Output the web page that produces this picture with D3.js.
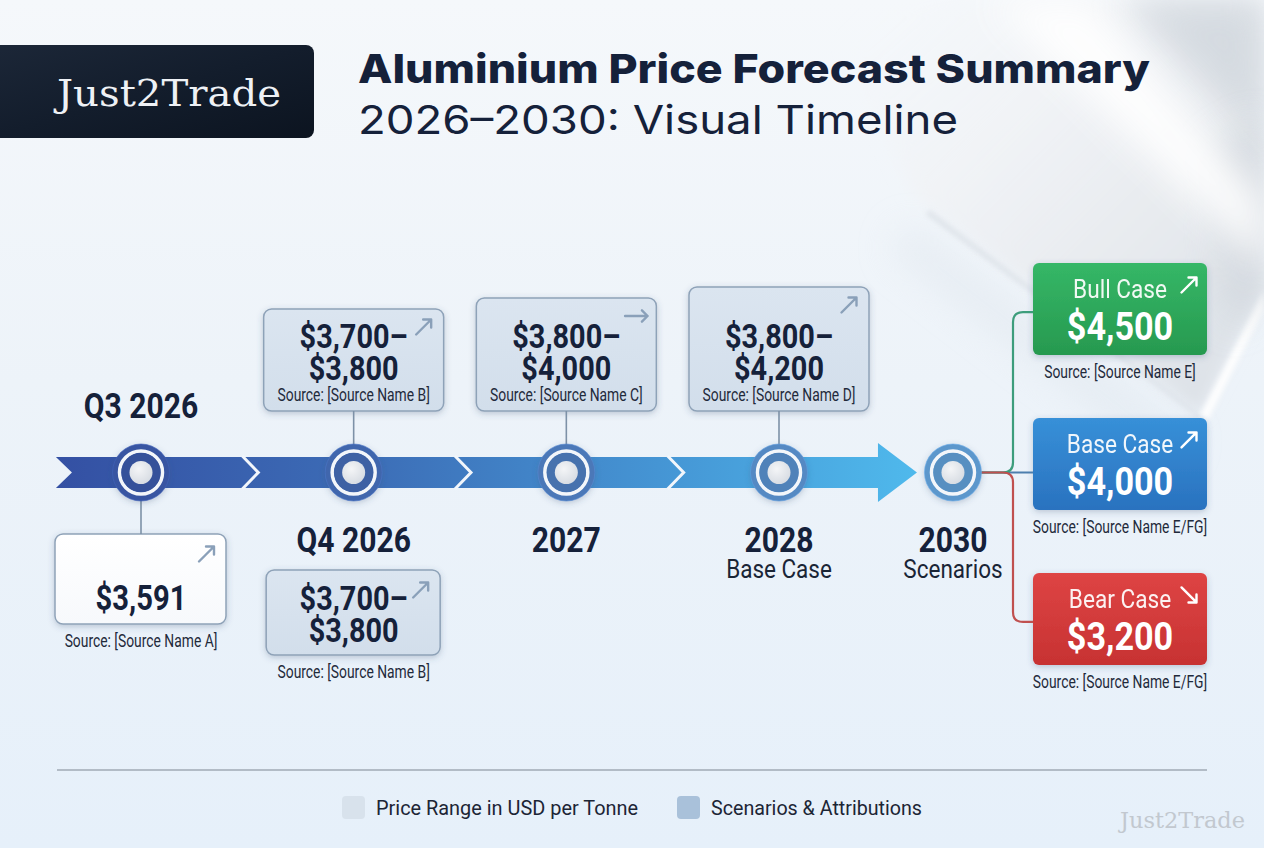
<!DOCTYPE html>
<html><head><meta charset="utf-8">
<script src="https://cdn.jsdelivr.net/npm/d3@7"></script>
<style>html,body{margin:0;padding:0;background:#eef4fa;overflow:hidden}</style>
</head><body><svg id="chart" width="1264" height="848"></svg>
<script>
// ---------- DATA ----------
const brand = "Just2Trade";
const titleText = "Aluminium Price Forecast Summary";
const subtitleText = "2026–2030: Visual Timeline";
const periods = ["Q3 2026", "Q4 2026", "2027", "2028"];
const periodSubLabels = ["", "", "", "Base Case"];
const priceLow = [3591, 3700, 3800, 3800];
const priceHigh = [3591, 3800, 4000, 4200];
const priceSources = ["Source Name A", "Source Name B", "Source Name C", "Source Name D"];
const priceTrends = ["up", "up", "flat", "up"];
const boxPlacement = ["below", "both", "above", "above"];
const scenarioYear = "2030";
const scenarioSubLabel = "Scenarios";
const scenarioNames = ["Bull Case", "Base Case", "Bear Case"];
const scenarioValues = [4500, 4000, 3200];
const scenarioSources = ["Source Name E", "Source Name E/FG", "Source Name E/FG"];
const scenarioTrends = ["up", "up", "down"];
const legendLabels = ["Price Range in USD per Tonne", "Scenarios & Attributions"];

// ---------- SETUP ----------
const W = 1264, H = 848;
const svg = d3.select("#chart");
const defs = svg.append("defs");
const fmt = d3.format("$,");
const DARK = "#15213a";

function lin(id, x1, y1, x2, y2, stops, units) {
  const lg = defs.append("linearGradient").attr("id", id)
    .attr("x1", x1).attr("y1", y1).attr("x2", x2).attr("y2", y2);
  if (units) lg.attr("gradientUnits", units);
  stops.forEach(s => lg.append("stop").attr("offset", s[0]).attr("stop-color", s[1]).attr("stop-opacity", s[2] == null ? 1 : s[2]));
}
lin("bg", 0, 0, 0, 1, [[0, "#f5f8fb"], [0.45, "#edf3f9"], [1, "#e6f0fa"]]);
lin("logoG", 0, 0, 1, 1, [[0, "#1c2738"], [0.5, "#131d2c"], [1, "#0c1420"]]);
lin("ribbon", 56, 0, 917, 0, [[0, "#3450a3"], [0.35, "#3c6cb6"], [0.7, "#4595d4"], [1, "#4fb9ec"]], "userSpaceOnUse");
lin("rangeBox", 0, 0, 0, 1, [[0, "#dbe5f0"], [1, "#d2deeb"]]);
lin("whiteBox", 0, 0, 0, 1, [[0, "#ffffff"], [1, "#f7f9fc"]]);
lin("scen0", 0, 0, 0, 1, [[0, "#35b767"], [1, "#27994f"]]);
lin("scen1", 0, 0, 0, 1, [[0, "#3790d8"], [1, "#2a72bf"]]);
lin("scen2", 0, 0, 0, 1, [[0, "#de4444"], [1, "#c73232"]]);
lin("metalSurf", 880, 0, 1264, 380, [[0, "#f3f5f8", 0], [0.3, "#f1f3f6", 0.85], [0.6, "#e9ecf0", 1], [1, "#dbe0e6", 1]], "userSpaceOnUse");
const rg = defs.append("radialGradient").attr("id", "core").attr("cx", 0.4).attr("cy", 0.35).attr("r", 0.7);
rg.append("stop").attr("offset", 0).attr("stop-color", "#f4f5f7");
rg.append("stop").attr("offset", 1).attr("stop-color", "#d6dbe2");

const sh = defs.append("filter").attr("id", "shadow").attr("x", "-30%").attr("y", "-30%").attr("width", "160%").attr("height", "160%");
sh.append("feDropShadow").attr("dx", 0).attr("dy", 2).attr("stdDeviation", 3).attr("flood-color", "#3b5575").attr("flood-opacity", 0.28);
function blurF(id, s) {
  defs.append("filter").attr("id", id).attr("x", "-50%").attr("y", "-50%").attr("width", "200%").attr("height", "200%")
    .append("feGaussianBlur").attr("stdDeviation", s);
}
blurF("blur", 18); blurF("blurS", 8); blurF("blurXS", 2.5);

// ---------- BACKGROUND ----------
svg.append("rect").attr("width", W).attr("height", H).attr("fill", "url(#bg)");
const metal = svg.append("g");
metal.append("path").attr("d", "M1190,440 L910,225 L890,250 L1170,465 Z").attr("fill", "#dce3ea").attr("opacity", 0.5).attr("filter", "url(#blur)");
metal.append("path").attr("d", "M820,0 L1264,0 L1264,290 L1200,415 L915,197 Z").attr("fill", "url(#metalSurf)").attr("filter", "url(#blurS)");
metal.append("path").attr("d", "M930,210 L1200,415 L1204,421 L925,214 Z").attr("fill", "#d3d9e0").attr("opacity", 0.55).attr("filter", "url(#blurXS)");
metal.append("path").attr("d", "M1264,290 L1200,415 L1208,420 L1264,310 Z").attr("fill", "#ffffff").attr("opacity", 0.9).attr("filter", "url(#blurXS)");
metal.append("path").attr("d", "M1120,0 L1264,0 L1264,140 Z").attr("fill", "#cfd5dc").attr("opacity", 0.8).attr("filter", "url(#blur)");
metal.append("path").attr("d", "M1210,150 L1264,120 L1264,290 L1230,330 Z").attr("fill", "#cdd3da").attr("opacity", 0.8).attr("filter", "url(#blur)");
metal.append("path").attr("d", "M990,0 L1090,0 L1264,200 L1264,270 Z").attr("fill", "#ffffff").attr("opacity", 0.9).attr("filter", "url(#blur)");

// ---------- TEXT HELPER ----------
function ctext(g, x, y, str, o) {
  return g.append("text")
    .attr("transform", `translate(${x},${y}) scale(${o.sx || 1},1)`)
    .attr("text-anchor", o.anchor || "middle")
    .attr("font-family", o.family || "Roboto, 'Liberation Sans', sans-serif")
    .attr("font-size", o.size).attr("font-weight", o.weight || 400)
    .attr("fill", o.fill || DARK)
    .attr("opacity", o.opacity == null ? 1 : o.opacity)
    .text(str);
}

// ---------- HEADER ----------
svg.append("rect").attr("x", -12).attr("y", 45).attr("width", 326).attr("height", 93).attr("rx", 8).attr("fill", "url(#logoG)");
svg.append("text").attr("x", 57).attr("y", 106).attr("font-family", "'DejaVu Serif', serif").attr("font-size", 38)
  .attr("fill", "#eef1f5").attr("textLength", 224).attr("lengthAdjust", "spacingAndGlyphs").text(brand);
svg.append("text").attr("x", 358).attr("y", 83).attr("font-family", "Inter, Roboto, sans-serif").attr("font-size", 40)
  .attr("font-weight", 800).attr("fill", DARK).attr("textLength", 792).attr("lengthAdjust", "spacingAndGlyphs").text(titleText);
svg.append("text").attr("x", 358).attr("y", 134).attr("font-family", "Inter, Roboto, sans-serif").attr("font-size", 40)
  .attr("font-weight", 400).attr("fill", DARK).attr("textLength", 600).attr("lengthAdjust", "spacingAndGlyphs").text(subtitleText);

// ---------- SCALES ----------
const TL_Y = 472.5;
const x = d3.scalePoint().domain(periods).range([141, 779]);
const step = x.step();
const hubX = x(periods[periods.length - 1]) + step * 0.818;
const nodeColor = d3.scaleLinear().domain([x(periods[0]), hubX]).range(["#3855a2", "#5c97cc"]);

// ---------- RIBBON ----------
const rh = 15.5, notch = 16;
const rStart = x(periods[0]) - step * 0.4;
const headBase = hubX - 75, headTip = hubX - 36, headH = 29.5;
const tl = svg.append("g");
tl.append("path").attr("d",
  `M${rStart},${TL_Y - rh} L${headBase},${TL_Y - rh} L${headBase},${TL_Y - headH} L${headTip},${TL_Y} ` +
  `L${headBase},${TL_Y + headH} L${headBase},${TL_Y + rh} L${rStart},${TL_Y + rh} L${rStart + notch},${TL_Y} Z`)
  .attr("fill", "url(#ribbon)");
periods.slice(0, -1).forEach((p, i) => {
  const tip = (x(p) + x(periods[i + 1])) / 2 + 11;
  tl.append("path").attr("d", `M${tip - notch},${TL_Y - rh - 1} L${tip},${TL_Y} L${tip - notch},${TL_Y + rh + 1}`)
    .attr("fill", "none").attr("stroke", "#f2f6fb").attr("stroke-width", 3);
});

// ---------- TREND ICON ----------
function trendIcon(g, cx, cy, dir, color) {
  const s = 7.5;
  let x1, y1, x2, y2;
  if (dir === "up") { x1 = cx - s; y1 = cy + s; x2 = cx + s; y2 = cy - s; }
  else if (dir === "down") { x1 = cx - s; y1 = cy - s; x2 = cx + s; y2 = cy + s; }
  else { x1 = cx - s * 1.5; y1 = cy; x2 = cx + s * 1.5; y2 = cy; }
  const a = Math.atan2(y2 - y1, x2 - x1), L = 8;
  const h1 = [x2 - L * Math.cos(a - Math.PI / 4), y2 - L * Math.sin(a - Math.PI / 4)];
  const h2 = [x2 - L * Math.cos(a + Math.PI / 4), y2 - L * Math.sin(a + Math.PI / 4)];
  g.append("path").attr("d", `M${x1},${y1} L${x2},${y2} M${h1[0]},${h1[1]} L${x2},${y2} L${h2[0]},${h2[1]}`)
    .attr("fill", "none").attr("stroke", color).attr("stroke-width", 2.4).attr("stroke-linecap", "round").attr("stroke-linejoin", "round");
}

// ---------- PRICE BOXES ----------
const boxes = svg.append("g");
const CONN = "#7d91a7";
const VAL = { size: 34, weight: 700, sx: 0.85 };
const SRC = { size: 18, sx: 0.77, fill: "#1f2a3b" };
let aboveIdx = 0;
periods.forEach((p, i) => {
  const cx = x(p);
  const single = priceLow[i] === priceHigh[i];
  const src = `Source: [${priceSources[i]}]`;
  const place = boxPlacement[i];
  if (place === "above" || place === "both") {
    const bw = 180, bottom = 411, top = 309 - 11 * aboveIdx;
    aboveIdx++;
    svg.append("line").attr("x1", cx).attr("x2", cx).attr("y1", bottom).attr("y2", TL_Y - 28)
      .attr("stroke", CONN).attr("stroke-width", 1.6);
    boxes.append("rect").attr("x", cx - bw / 2).attr("y", top).attr("width", bw).attr("height", bottom - top).attr("rx", 8)
      .attr("fill", "url(#rangeBox)").attr("stroke", "#8ea2b8").attr("stroke-width", 1.5).attr("filter", "url(#shadow)");
    ctext(boxes, cx, bottom - 63, fmt(priceLow[i]) + "–", VAL);
    ctext(boxes, cx, bottom - 31, fmt(priceHigh[i]), VAL);
    ctext(boxes, cx, bottom - 10, src, SRC);
    trendIcon(boxes, cx + bw / 2 - 20, top + 18, priceTrends[i], "#8aa0b9");
  }
  if (place === "below" || place === "both") {
    const labelAbove = place === "below";
    const bw = single ? 171 : 174, top = labelAbove ? TL_Y + 61.5 : TL_Y + 97.5, bh = single ? 90 : 85;
    if (labelAbove) svg.append("line").attr("x1", cx).attr("x2", cx).attr("y1", TL_Y + 28).attr("y2", top)
      .attr("stroke", CONN).attr("stroke-width", 1.6);
    boxes.append("rect").attr("x", cx - bw / 2 - 0.5).attr("y", top).attr("width", bw).attr("height", bh).attr("rx", 8)
      .attr("fill", single ? "url(#whiteBox)" : "url(#rangeBox)").attr("stroke", "#8ea2b8").attr("stroke-width", 1.5).attr("filter", "url(#shadow)");
    if (single) {
      ctext(boxes, cx, top + bh - 14, fmt(priceLow[i]), { size: 36, weight: 700, sx: 0.81 });
    } else {
      ctext(boxes, cx, top + bh - 45, fmt(priceLow[i]) + "–", VAL);
      ctext(boxes, cx, top + bh - 13, fmt(priceHigh[i]), VAL);
    }
    ctext(boxes, cx, top + bh + 23, src, SRC);
    trendIcon(boxes, cx + bw / 2 - 20, top + 20, priceTrends[i], "#8aa0b9");
  }
  const ly = place === "below" ? TL_Y - 54.5 : TL_Y + 79.5;
  ctext(svg, cx, ly, p, { size: 35, weight: 700, sx: 0.86 });
  if (periodSubLabels[i]) ctext(svg, cx, TL_Y + 105.5, periodSubLabels[i], { size: 25, sx: 0.9, fill: "#1a2536" });
});

// ---------- SCENARIOS ----------
const yS = d3.scaleBand().domain(scenarioNames).range([263, 665]).paddingInner(0.406).paddingOuter(0);
const sx0 = 1033, sw = 174, trunkX = 1013, rr = 10;
const branchColors = ["#3d9d7c", "#4d7fae", "#c0504f"];
const tree = svg.append("g");
[1, 0, 2].forEach(i => {
  const name = scenarioNames[i];
  const top = yS(name), cy = i === 1 ? TL_Y : top + yS.bandwidth() / 2 + 3;
  let d;
  if (Math.abs(cy - TL_Y) < 1) d = `M${hubX + 27},${TL_Y} H${sx0}`;
  else {
    const sg = cy < TL_Y ? -1 : 1;
    d = `M${hubX + 27},${TL_Y} H${trunkX - rr} Q${trunkX},${TL_Y} ${trunkX},${TL_Y + sg * rr} V${cy - sg * rr} Q${trunkX},${cy} ${trunkX + rr},${cy} H${sx0}`;
  }
  tree.append("path").attr("d", d).attr("fill", "none").attr("stroke", branchColors[i]).attr("stroke-width", 2.2);
});
scenarioNames.forEach((name, i) => {
  const top = yS(name), cx = sx0 + sw / 2;
  boxes.append("rect").attr("x", sx0).attr("y", top).attr("width", sw).attr("height", yS.bandwidth()).attr("rx", 6)
    .attr("fill", `url(#scen${i})`).attr("filter", "url(#shadow)");
  ctext(boxes, cx, top + 35, name, { size: 26, sx: 0.87, fill: "#ffffff", opacity: 0.93 });
  ctext(boxes, cx, top + 77, fmt(scenarioValues[i]), { size: 38, weight: 700, sx: 0.9, fill: "#ffffff" });
  trendIcon(boxes, sx0 + sw - 18, top + 22, scenarioTrends[i], "#ffffff");
  ctext(boxes, cx, top + yS.bandwidth() + 23, `Source: [${scenarioSources[i]}]`, SRC);
});
ctext(svg, hubX, TL_Y + 79.5, scenarioYear, { size: 35, weight: 700, sx: 0.86 });
ctext(svg, hubX, TL_Y + 105.5, scenarioSubLabel, { size: 25, sx: 0.9, fill: "#1a2536" });

// ---------- NODES ----------
const nodeX = periods.map(p => x(p)).concat([hubX]);
const nodes = svg.append("g");
nodeX.forEach(nx => {
  const c = nodeColor(nx);
  const ng = nodes.append("g").attr("transform", `translate(${nx},${TL_Y})`);
  ng.append("circle").attr("r", 28.5).attr("fill", c).attr("filter", "url(#shadow)");
  ng.append("circle").attr("r", 28.5).attr("fill", "none").attr("stroke", d3.color(c).brighter(0.4)).attr("stroke-width", 1).attr("opacity", 0.6);
  ng.append("circle").attr("r", 21.5).attr("fill", "none").attr("stroke", "#f3f6fa").attr("stroke-width", 3.5);
  ng.append("circle").attr("r", 19.5).attr("fill", d3.color(c).darker(0.15));
  ng.append("circle").attr("r", 11.5).attr("fill", "url(#core)");
});

// ---------- FOOTER ----------
svg.append("line").attr("x1", 57).attr("x2", 1207).attr("y1", 770).attr("y2", 770).attr("stroke", "#a0aab5").attr("stroke-width", 1.5);
const legendColors = ["#d8e2ec", "#a9c1da"];
const legendX = [342, 677], legendW = [262, 211];
legendLabels.forEach((l, i) => {
  svg.append("rect").attr("x", legendX[i]).attr("y", 796).attr("width", 23).attr("height", 23).attr("rx", 4).attr("fill", legendColors[i]);
  svg.append("text").attr("x", legendX[i] + 34).attr("y", 815).attr("font-family", "Roboto, sans-serif").attr("font-size", 21)
    .attr("fill", "#1c2535").attr("textLength", legendW[i]).attr("lengthAdjust", "spacingAndGlyphs").text(l);
});
svg.append("text").attr("x", 1120).attr("y", 828).attr("font-family", "'DejaVu Serif', serif").attr("font-size", 22)
  .attr("fill", "#c2c8cf").attr("textLength", 125).attr("lengthAdjust", "spacingAndGlyphs").text(brand);
</script>
</body></html>
